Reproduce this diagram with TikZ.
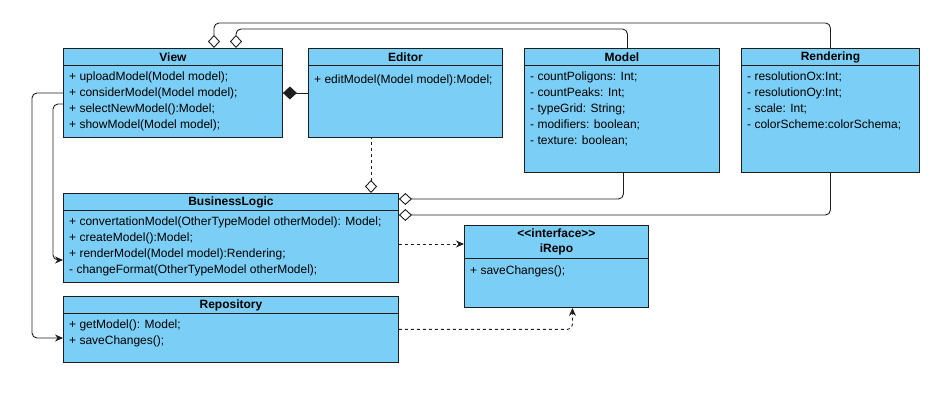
\documentclass[tikz,border=0pt]{standalone}
\usepackage{fontspec}
\setmainfont{Liberation Sans}
\usetikzlibrary{arrows.meta}

\definecolor{umlblue}{RGB}{123,206,245}
\definecolor{umlline}{RGB}{30,30,30}

\tikzset{
  cls/.style={draw=umlline, fill=umlblue, line width=0.9pt, anchor=north west, inner sep=0pt},
  hdr/.style={draw=umlline, fill=umlblue, line width=0.9pt, anchor=north, minimum height=17pt,
    inner sep=0pt, align=center, font=\bfseries\fontsize{12}{15}\selectfont},
  mem/.style={anchor=north west, inner sep=0pt, align=left, font=\fontsize{12}{16}\selectfont,
    execute at begin node=\strut},
  wire/.style={draw=umlline, line width=0.9pt, rounded corners=5pt},
  agg/.style={wire, {Diamond[open, length=13pt, width=12pt]}-},
  comp/.style={wire, {Diamond[length=14pt, width=13pt]}-},
  dep/.style={wire, -{Stealth[length=8pt, width=7pt]}}
}

\begin{document}
\begin{tikzpicture}[x=1pt, y=-1pt]
        	\useasboundingbox (0,0) rectangle (950,411);
        	% Classes:
        	\node[cls, minimum width=219pt, minimum height=89pt] (view) at (63,48) {};
        	\node[hdr, minimum width=219pt] at (view.north) {View};
        	\node[mem] at ([shift={(6pt,-23.8pt)}]view.north west) {+ uploadModel(Model model);\\+ considerModel(Model model);\\+ selectNewModel():Model;\\+ showModel(Model model);};
        	\node[cls, minimum width=194pt, minimum height=89pt] (editor) at (308,48) {};
        	\node[hdr, minimum width=194pt] at (editor.north) {Editor};
        	\node[mem] at ([shift={(6pt,-23.8pt)}]editor.north west) {+ editModel(Model model):Model;};
        	\node[cls, minimum width=195pt, minimum height=124pt] (model) at (524,48) {};
        	\node[hdr, minimum width=195pt] at (model.north) {Model};
        	\node[mem] at ([shift={(6pt,-23.8pt)}]model.north west) {- countPoligons: Int;\\- countPeaks: Int;\\- typeGrid: String;\\- modifiers: boolean;\\- texture: boolean;};
        	\node[cls, minimum width=178pt, minimum height=124pt] (rend) at (741,48) {};
        	\node[hdr, minimum width=178pt] at (rend.north) {Rendering};
        	\node[mem] at ([shift={(6pt,-23.8pt)}]rend.north west) {- resolutionOx:Int;\\- resolutionOy:Int;\\- scale: Int;\\- colorScheme:colorSchema;};
        	\node[cls, minimum width=335pt, minimum height=89pt] (bl) at (63,193) {};
        	\node[hdr, minimum width=335pt] at (bl.north) {BusinessLogic};
        	\node[mem] at ([shift={(6pt,-23.8pt)}]bl.north west) {+ convertationModel(OtherTypeModel otherModel): Model;\\+ createModel():Model;\\+ renderModel(Model model):Rendering;\\- changeFormat(OtherTypeModel otherModel);};
        	\node[cls, minimum width=335pt, minimum height=66pt] (repo) at (63,296) {};
        	\node[hdr, minimum width=335pt] at (repo.north) {Repository};
        	\node[mem] at ([shift={(6pt,-23.8pt)}]repo.north west) {+ getModel(): Model;\\+ saveChanges();};
        	\node[cls, minimum width=184pt, minimum height=82pt] (irepo) at (464,225) {};
        	\node[hdr, minimum width=184pt, minimum height=33pt] at (irepo.north) {<\kern0pt<interface>\kern0pt>\\iRepo};
        	\node[mem] at ([shift={(6pt,-38.1pt)}]irepo.north west) {+ saveChanges();};
        	% Connectors:
        	\draw[agg] ([xshift=151pt]view.north west) |- ([yshift=25pt]rend.north) -- (rend.north);
        	\draw[agg] ([xshift=173pt]view.north west) |- ([xshift=5.5pt, yshift=19pt]model.north) -- ([xshift=5.5pt]model.north);
        	\draw[agg] ([yshift=-6pt]bl.north east) -| ([xshift=1.5pt]model.south);
        	\draw[agg] ([yshift=-22pt]bl.north east) -| (rend.south);
        	\draw[comp] ([yshift=-45pt]view.north east) -- ([yshift=-45pt]editor.north west);
        	\draw[agg, dashed] ([xshift=63pt]editor.south west |- bl.north) -- ([xshift=63pt]editor.south west);
        	\draw[dep] ([yshift=-45pt]view.north west) -- ++(-31,0) |- ([yshift=-42pt]repo.north west);
        	\draw[dep] ([yshift=-56pt]view.north west) -- ++(-10,0) |- ([yshift=-67pt]bl.north west);
        	\draw[dep, dashed] ([yshift=-51pt]bl.north east) -- ([yshift=-19pt]irepo.north west);
        	\draw[dep, dashed] (repo.east) -| ([xshift=16pt]irepo.south);
\end{tikzpicture}
\end{document}
